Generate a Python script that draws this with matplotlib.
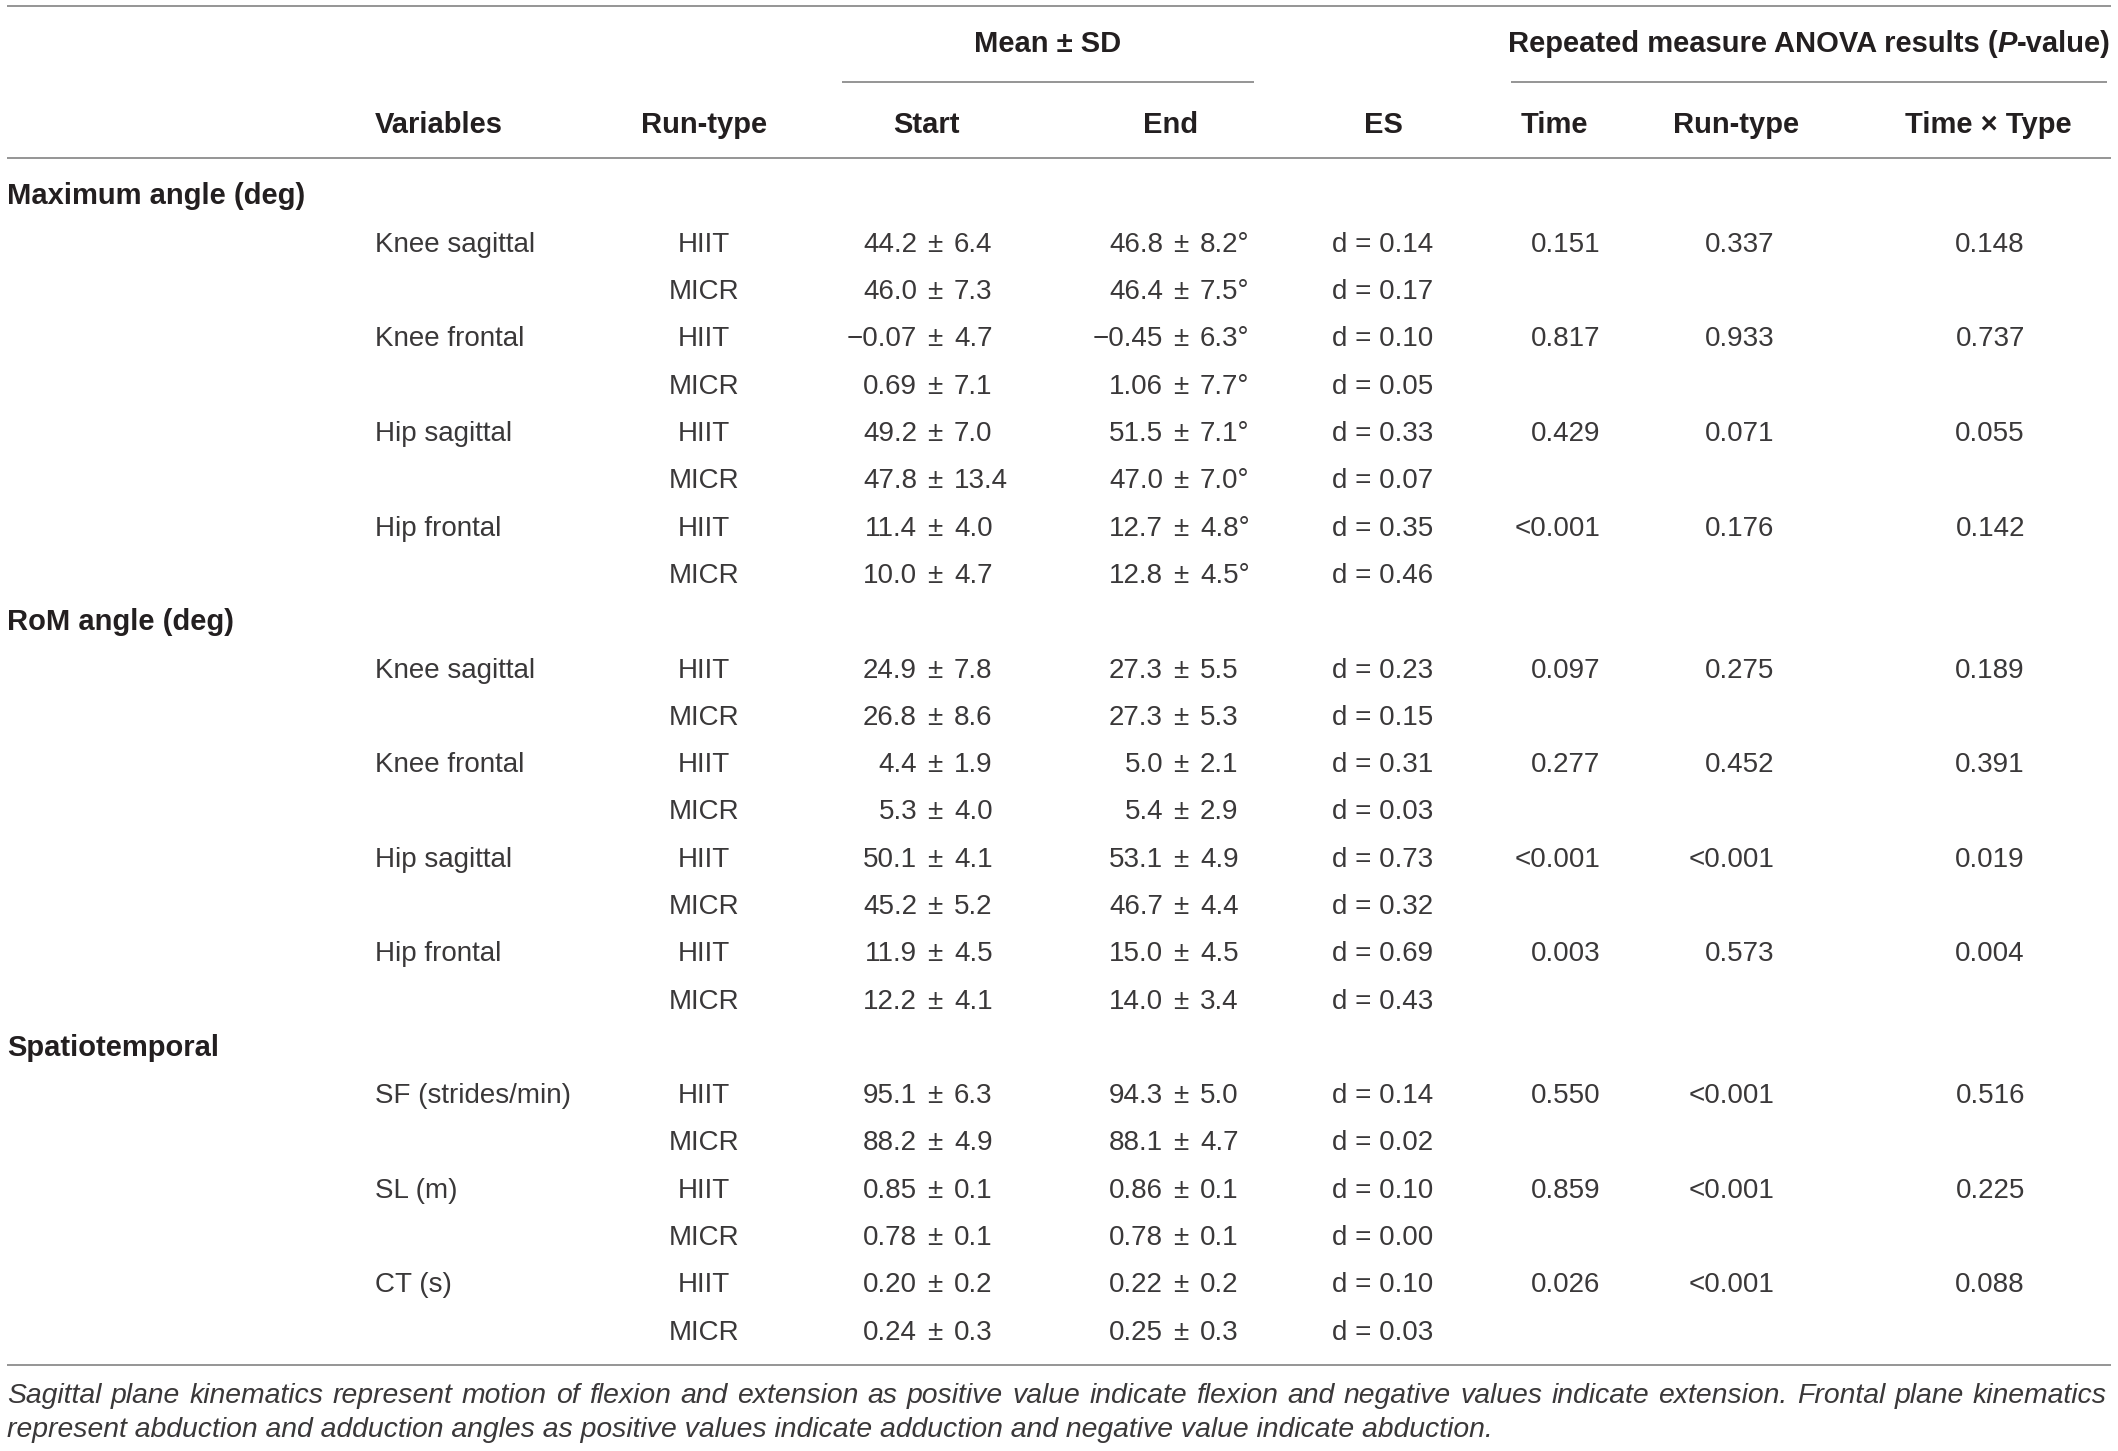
import matplotlib.pyplot as plt

# table content
sections = ["Maximum angle (deg)", "RoM angle (deg)", "Spatiotemporal"]
variables = ["Knee sagittal", "Knee frontal", "Hip sagittal", "Hip frontal",
             "Knee sagittal", "Knee frontal", "Hip sagittal", "Hip frontal",
             "SF (strides/min)", "SL (m)", "CT (s)"]
var_section = [0, 0, 0, 0, 1, 1, 1, 1, 2, 2, 2]
run_types = ["HIIT", "MICR"]

# two rows (HIIT, MICR) per variable
start_mean = ["44.2", "46.0", "\u22120.07", "0.69", "49.2", "47.8", "11.4", "10.0",
              "24.9", "26.8", "4.4", "5.3", "50.1", "45.2", "11.9", "12.2",
              "95.1", "88.2", "0.85", "0.78", "0.20", "0.24"]
start_sd = ["6.4", "7.3", "4.7", "7.1", "7.0", "13.4", "4.0", "4.7",
            "7.8", "8.6", "1.9", "4.0", "4.1", "5.2", "4.5", "4.1",
            "6.3", "4.9", "0.1", "0.1", "0.2", "0.3"]
end_mean = ["46.8", "46.4", "\u22120.45", "1.06", "51.5", "47.0", "12.7", "12.8",
            "27.3", "27.3", "5.0", "5.4", "53.1", "46.7", "15.0", "14.0",
            "94.3", "88.1", "0.86", "0.78", "0.22", "0.25"]
end_sd = ["8.2°", "7.5°", "6.3°", "7.7°", "7.1°", "7.0°", "4.8°", "4.5°",
          "5.5", "5.3", "2.1", "2.9", "4.9", "4.4", "4.5", "3.4",
          "5.0", "4.7", "0.1", "0.1", "0.2", "0.3"]
effect_size = ["0.14", "0.17", "0.10", "0.05", "0.33", "0.07", "0.35", "0.46",
               "0.23", "0.15", "0.31", "0.03", "0.73", "0.32", "0.69", "0.43",
               "0.14", "0.02", "0.10", "0.00", "0.10", "0.03"]

# one p-value per variable
p_time = ["0.151", "0.817", "0.429", "<0.001", "0.097", "0.277", "<0.001", "0.003",
          "0.550", "0.859", "0.026"]
p_runtype = ["0.337", "0.933", "0.071", "0.176", "0.275", "0.452", "<0.001", "0.573",
             "<0.001", "<0.001", "<0.001"]
p_interaction = ["0.148", "0.737", "0.055", "0.142", "0.189", "0.391", "0.019", "0.004",
                 "0.516", "0.225", "0.088"]

footnote_1 = ("Sagittal plane kinematics represent motion of flexion and extension as positive value "
              "indicate flexion and negative values indicate extension. Frontal plane kinematics")
footnote_2 = ("represent abduction and adduction angles as positive values indicate adduction and "
              "negative value indicate abduction.")

plt.rcParams['font.family'] = ['Liberation Sans', 'DejaVu Sans']

W, H = 2118, 1451
fig = plt.figure(figsize=(W / 100, H / 100), dpi=100)
ax = fig.add_axes([0, 0, 1, 1])
ax.set_xlim(0, W)
ax.set_ylim(H, 0)    # pixel-like coords, y down
ax.axis('off')
renderer = fig.canvas.get_renderer()

txt_color = '#3a3839'
rule_color = '#8c8c8c'
body = dict(fontsize=20, color=txt_color, fontweight='normal', va='baseline')
head = dict(fontsize=21, color='#231f20', fontweight='bold', va='baseline')

# rules
ax.hlines([6, 158, 1365], 7, 2111, color=rule_color, lw=1.3)
ax.hlines(82, 842, 1254, color=rule_color, lw=1.3)
ax.hlines(82, 1511, 2107, color=rule_color, lw=1.3)


def runs(x, y, parts):
    # place text pieces with different styles next to each other, centred on x
    objs = [ax.text(0, y, s, ha='left', **st) for s, st in parts]
    widths = [o.get_window_extent(renderer).width for o in objs]
    x0 = x - sum(widths) / 2
    for o, w in zip(objs, widths):
        o.set_x(x0)
        x0 += w


# header
ax.text(1048, 52, "Mean ± SD", ha='center', **head)
runs(1809, 52, [("Repeated measure ANOVA results (", head),
                ("P", dict(head, fontstyle='italic')),
                ("-value)", head)])
ax.text(375, 133, "Variables", ha='left', **head)
ax.text(704, 133, "Run-type", ha='center', **head)
ax.text(926, 133, "Start", ha='center', **head)
ax.text(1171, 133, "End", ha='center', **head)
ax.text(1383, 133, "ES", ha='center', **head)
ax.text(1554, 133, "Time", ha='center', **head)
ax.text(1736, 133, "Run-type", ha='center', **head)
ax.text(1988, 133, "Time × Type", ha='center', **head)


def mean_sd(x_pm, y, m, s):
    # align the ± signs of a column
    ax.text(x_pm - 18, y, m, ha='right', **body)
    ax.text(x_pm, y, "±", ha='center', **body)
    ax.text(x_pm + 19, y, s, ha='left', **body)


row0 = 204.5    # baseline of first body row
row_h = 47.3
r = 0
for s, name in enumerate(sections):
    ax.text(7, row0 + r * row_h, name, ha='left', **head)
    r += 1
    for v in [i for i in range(len(variables)) if var_section[i] == s]:
        y = row0 + r * row_h
        ax.text(375, y, variables[v], ha='left', **body)
        ax.text(1600, y, p_time[v], ha='right', **body)
        ax.text(1774, y, p_runtype[v], ha='right', **body)
        ax.text(2025, y, p_interaction[v], ha='right', **body)
        for k in range(2):
            j = 2 * v + k
            y = row0 + r * row_h
            ax.text(704, y, run_types[k], ha='center', **body)
            mean_sd(935, y, start_mean[j], start_sd[j])
            mean_sd(1181, y, end_mean[j], end_sd[j])
            ax.text(1383, y, "d = " + effect_size[j], ha='center', **body)
            r += 1

# footnote, first line justified
note = dict(body, fontsize=20.4, fontstyle='italic')
words = [ax.text(0, 1403, w, ha='left', **note) for w in footnote_1.split()]
widths = [t.get_window_extent(renderer).width for t in words]
gap = (2107 - 7 - sum(widths)) / (len(words) - 1)
x = 7
for t, w in zip(words, widths):
    t.set_x(x)
    x += w + gap
ax.text(7, 1437, footnote_2, ha='left', **note)

fig.savefig('out.png', dpi=100, facecolor='white')
